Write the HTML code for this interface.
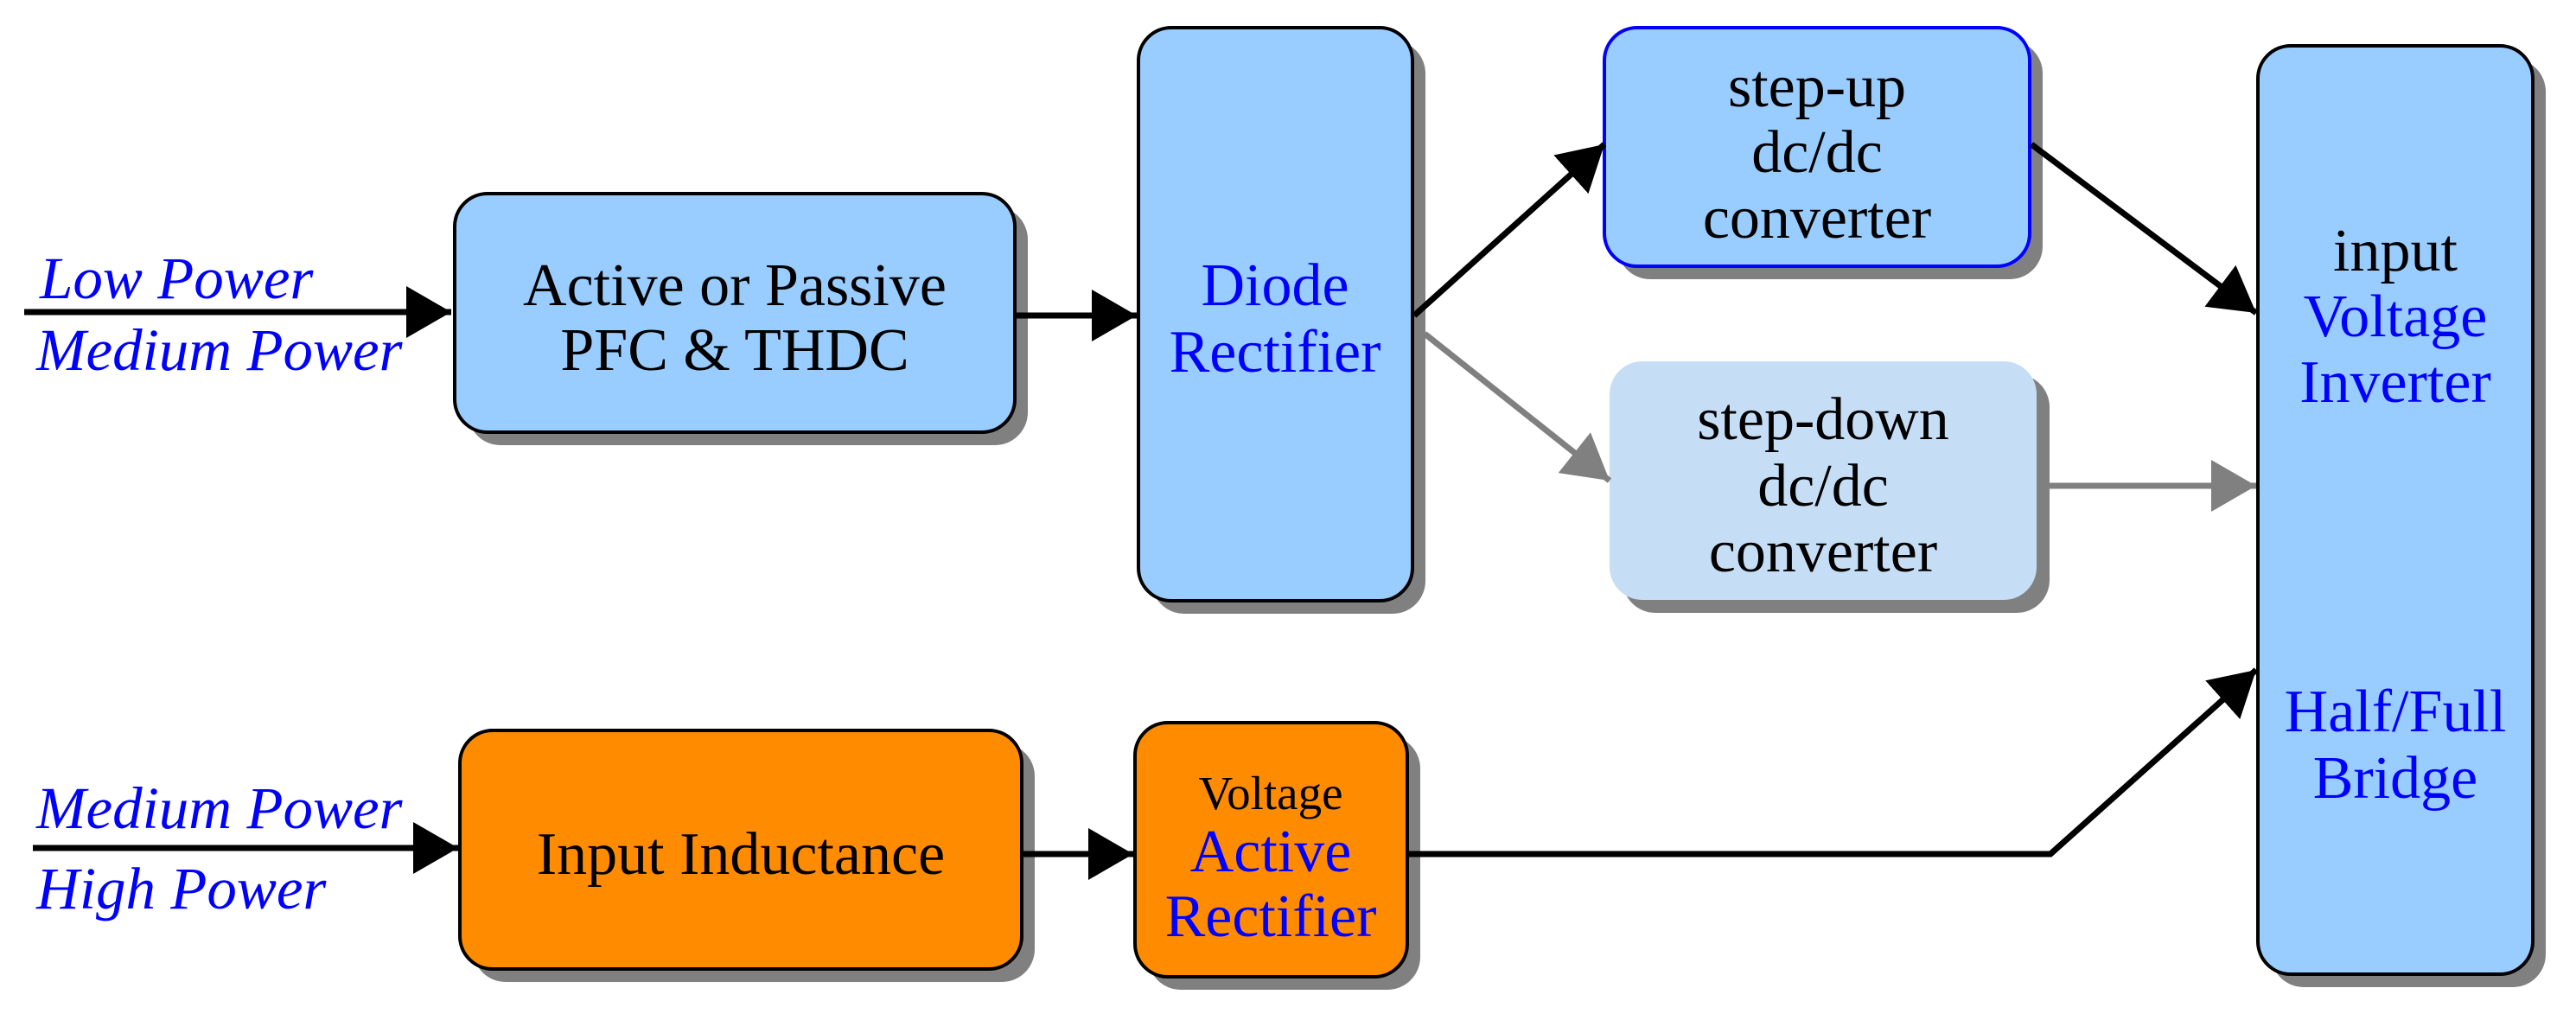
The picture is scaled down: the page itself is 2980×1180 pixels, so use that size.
<!DOCTYPE html>
<html><head><meta charset="utf-8"><style>html,body{margin:0;padding:0;background:#fff}svg{display:block}</style></head>
<body>
<svg width="2980" height="1180" viewBox="0 0 2980 1180" xmlns="http://www.w3.org/2000/svg" font-family="'Liberation Serif', serif">
<defs>
<marker id="ab" markerUnits="userSpaceOnUse" markerWidth="56" markerHeight="64" refX="52" refY="30" orient="auto"><path d="M0,0 L52,30 L0,60 Z" fill="#000"/></marker>
<marker id="ag" markerUnits="userSpaceOnUse" markerWidth="56" markerHeight="64" refX="52" refY="30" orient="auto"><path d="M0,0 L52,30 L0,60 Z" fill="#808080"/></marker>
</defs>
<g fill="#808080">
<rect x="541" y="239" width="648" height="276" rx="38"/>
<rect x="1332" y="47" width="317" height="663" rx="38"/>
<rect x="1871" y="47" width="492" height="276" rx="38"/>
<rect x="1877" y="433" width="494" height="276" rx="38"/>
<rect x="2627" y="68" width="318" height="1074" rx="38"/>
<rect x="547" y="860" width="650" height="276" rx="38"/>
<rect x="1328" y="851" width="315" height="294" rx="38"/>
</g>
<rect x="526" y="224" width="648" height="276" rx="38" fill="#99ccff" stroke="#000" stroke-width="4"/>
<rect x="1317" y="32" width="317" height="663" rx="38" fill="#99ccff" stroke="#000" stroke-width="4"/>
<rect x="1856" y="32" width="492" height="276" rx="38" fill="#99ccff" stroke="#0000ff" stroke-width="4"/>
<rect x="1862" y="418" width="494" height="276" rx="38" fill="#c6def5"/>
<rect x="2612" y="53" width="318" height="1074" rx="38" fill="#99ccff" stroke="#000" stroke-width="4"/>
<rect x="532" y="845" width="650" height="276" rx="38" fill="#ff8c00" stroke="#000" stroke-width="4"/>
<rect x="1313" y="836" width="315" height="294" rx="38" fill="#ff8c00" stroke="#000" stroke-width="4"/>
<g stroke-width="7" fill="none">
<line x1="28" y1="361" x2="522" y2="361" stroke="#000" marker-end="url(#ab)"/>
<line x1="1176" y1="365" x2="1315" y2="365" stroke="#000" marker-end="url(#ab)"/>
<line x1="1636" y1="365" x2="1856" y2="167" stroke="#000" marker-end="url(#ab)"/>
<line x1="1648" y1="386" x2="1862" y2="556" stroke="#808080" marker-end="url(#ag)"/>
<line x1="2350" y1="167" x2="2610" y2="362" stroke="#000" marker-end="url(#ab)"/>
<line x1="2362" y1="562" x2="2610" y2="562" stroke="#808080" marker-end="url(#ag)"/>
<polyline points="1630,988 2372,988 2610,775" stroke="#000" marker-end="url(#ab)"/>
<line x1="38" y1="981" x2="530" y2="981" stroke="#000" marker-end="url(#ab)"/>
<line x1="1184" y1="988" x2="1311" y2="988" stroke="#000" marker-end="url(#ab)"/>
</g>
<g font-size="69" font-style="italic" fill="#0000ff">
<text x="46" y="345">Low Power</text>
<text x="42" y="428">Medium Power</text>
<text x="42" y="958">Medium Power</text>
<text x="42" y="1051">High Power</text>
</g>
<g font-size="70" text-anchor="middle">
<text x="850" y="353">Active or Passive</text>
<text x="850" y="428">PFC &amp; THDC</text>
<text x="1475" y="353" fill="#0000ff">Diode</text>
<text x="1475" y="430" fill="#0000ff">Rectifier</text>
<text x="2102" y="123">step-up</text>
<text x="2102" y="199">dc/dc</text>
<text x="2102" y="275">converter</text>
<text x="2109" y="508">step-down</text>
<text x="2109" y="585">dc/dc</text>
<text x="2109" y="661">converter</text>
<text x="2771" y="313">input</text>
<text x="2771" y="389" fill="#0000ff">Voltage</text>
<text x="2771" y="465" fill="#0000ff">Inverter</text>
<text x="2771" y="846" fill="#0000ff">Half/Full</text>
<text x="2771" y="923" fill="#0000ff">Bridge</text>
<text x="857" y="1011">Input Inductance</text>
<text x="1470" y="936" font-size="55">Voltage</text>
<text x="1470" y="1008" fill="#0000ff">Active</text>
<text x="1470" y="1083" fill="#0000ff">Rectifier</text>
</g>
</svg>
</body></html>
